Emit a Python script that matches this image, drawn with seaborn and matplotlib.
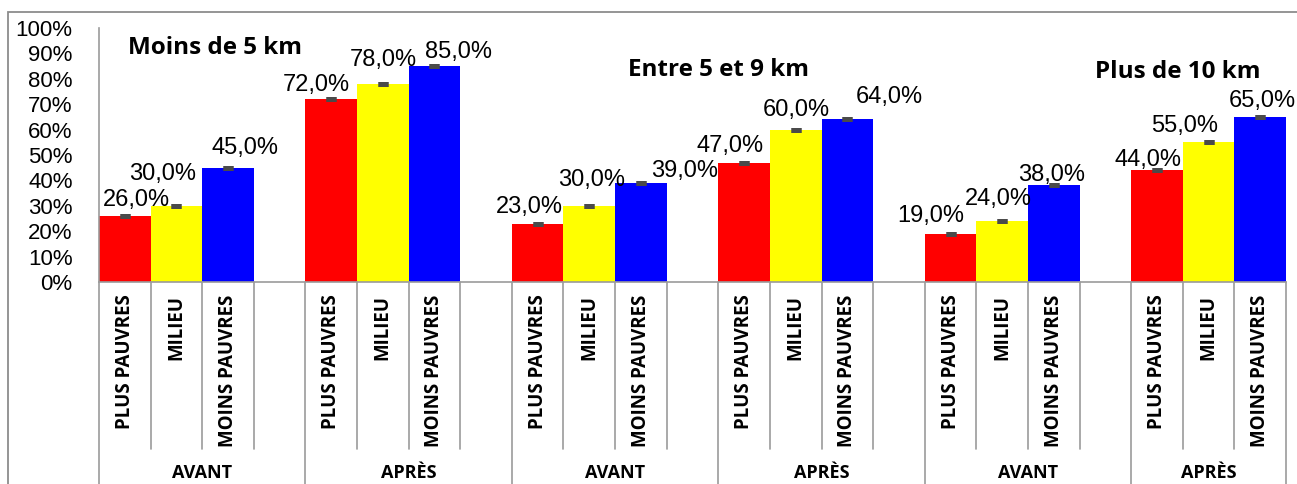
import matplotlib
matplotlib.use("Agg")
import matplotlib.pyplot as plt
import matplotlib.transforms as mtransforms
from matplotlib.patches import Rectangle
import numpy as np
import pandas as pd
import seaborn as sns

# --- data -------------------------------------------------------------
distances = ["Moins de 5 km", "Entre 5 et 9 km", "Plus de 10 km"]
periodes = ["AVANT", "APRÈS"]
classes = ["PLUS PAUVRES", "MILIEU", "MOINS PAUVRES"]

moins_5_avant = [26.0, 30.0, 45.0]
moins_5_apres = [72.0, 78.0, 85.0]
entre_5_9_avant = [23.0, 30.0, 39.0]
entre_5_9_apres = [47.0, 60.0, 64.0]
plus_10_avant = [19.0, 24.0, 38.0]
plus_10_apres = [44.0, 55.0, 65.0]

y_ticks = [0, 10, 20, 30, 40, 50, 60, 70, 80, 90, 100]

series = [moins_5_avant, moins_5_apres,
          entre_5_9_avant, entre_5_9_apres,
          plus_10_avant, plus_10_apres]

couleurs = {"PLUS PAUVRES": "#FF0000", "MILIEU": "#FFFF00", "MOINS PAUVRES": "#0000FF"}

# label nudges (pixels) around each bar top, in drawing order
label_dx = [12, -14, 17, -15, 0, 24, -8, 2, 44, -14, 1, 42, -20, -4, -2, -9, -24, 2]
label_dy = [-16, -32, -20, -14, -24, -14, -17, -26, -12, -17, -20, -22, -18, -22, -10, -10, -16, -16]

# --- table: one slot per bar, plus a spacer slot between blocks --------
rows = []
order = []
tick_text = []
block_index = 0
for d_i, dist in enumerate(distances):
    for p_i, per in enumerate(periodes):
        vals = series[block_index]
        for c_i, cl in enumerate(classes):
            key = f"{dist}|{per}|{cl}"
            order.append(key)
            tick_text.append(cl)
            rows.append({"slot": key, "classe": cl, "valeur": vals[c_i],
                         "distance": dist, "periode": per})
        block_index += 1
        if block_index < len(series):
            order.append(f"gap{block_index}")
            tick_text.append("")
df = pd.DataFrame(rows)

# --- figure -------------------------------------------------------------
sns.set_style("white")
plt.rcParams["font.family"] = ["Liberation Sans", "DejaVu Sans"]
plt.rcParams["text.color"] = "black"
plt.rcParams["xtick.color"] = "black"
plt.rcParams["ytick.color"] = "black"
bold_family = ["Open Sans", "DejaVu Sans"]

W, H = 1297, 484
fig = plt.figure(figsize=(W / 100, H / 100), dpi=100)
ax = fig.add_axes([99 / W, 202 / H, 1187 / W, 254 / H])

sns.barplot(data=df, x="slot", y="valeur", hue="classe", order=order,
            hue_order=classes, palette=couleurs, dodge=False, width=1.0,
            saturation=1, legend=False, errorbar=None, linewidth=0, ax=ax)

ax.set_xlim(-0.5, len(order) - 0.5)
ax.set_ylim(0, 100)
ax.set_xlabel("")
ax.set_ylabel("")

grey = "#9b9b9b"
for s in ["top", "right"]:
    ax.spines[s].set_visible(False)
for s in ["left", "bottom"]:
    ax.spines[s].set_color(grey)
    ax.spines[s].set_linewidth(1.2)

ax.set_yticks(y_ticks)
ax.set_yticklabels([f"{v}%" for v in y_ticks], fontsize=16, color="black")
ax.tick_params(axis="y", length=0, pad=19)

ax.set_xticks(range(len(order)))
ax.set_xticklabels(tick_text, rotation=90, fontsize=13.5, fontweight="bold",
                   family=bold_family, va="top", ha="center", color="black")
ax.tick_params(axis="x", length=0, pad=9)

# bars in drawing order (ignore empty patches)
bars = [p for p in ax.patches if p.get_height() > 0]
bars.sort(key=lambda p: p.get_x())

# small caps on top of each bar, and value labels
px = 72 / 100
for i, b in enumerate(bars):
    xc = b.get_x() + b.get_width() / 2
    yv = b.get_height()
    ax.errorbar(xc, yv, yerr=0, fmt="none", ecolor="#4a4a4a",
                elinewidth=0, capsize=3.8, capthick=3.6, zorder=4)
    ax.annotate(f"{yv:.1f}".replace(".", ",") + "%", (xc, yv),
                xytext=(label_dx[i] * px, -label_dy[i] * px),
                textcoords="offset points", ha="center", va="center",
                fontsize=17, color="black", zorder=5)

# category-axis separators
trans = mtransforms.blended_transform_factory(ax.transData, ax.transAxes)
group_edges = [-0.5, 3.5, 7.5, 11.5, 15.5, 19.5, len(order) - 0.5]
for k in range(len(order) + 1):
    xb = k - 0.5
    y_end = -0.86 if xb in group_edges else -0.657
    ax.plot([xb, xb], [0, y_end], transform=trans, color=grey, lw=1.2,
            clip_on=False, zorder=1)

# period labels under each block
centers = [1.5, 5.5, 9.5, 13.5, 17.5, 21.0]
for c, per in zip(centers, periodes * len(distances)):
    ax.text(c, -0.752, per, transform=trans, ha="center", va="center",
            fontsize=13, fontweight="bold", family=bold_family, color="black")

# distance titles
title_pos = [(1.75, 92.0), (11.5, 83.5), (20.4, 82.7)]
for (tx, ty), dist in zip(title_pos, distances):
    ax.text(tx, ty, dist, ha="center", va="center", fontsize=17.5,
            fontweight="bold", family=bold_family, color="black")

# outer chart frame
fig.patches.append(Rectangle((8 / W, -0.2), 1.2, 1.2 - 12 / H, transform=fig.transFigure,
                             fill=False, edgecolor="#8c8c8c", lw=1.3, zorder=0))

fig.savefig("out.png", dpi=100)
